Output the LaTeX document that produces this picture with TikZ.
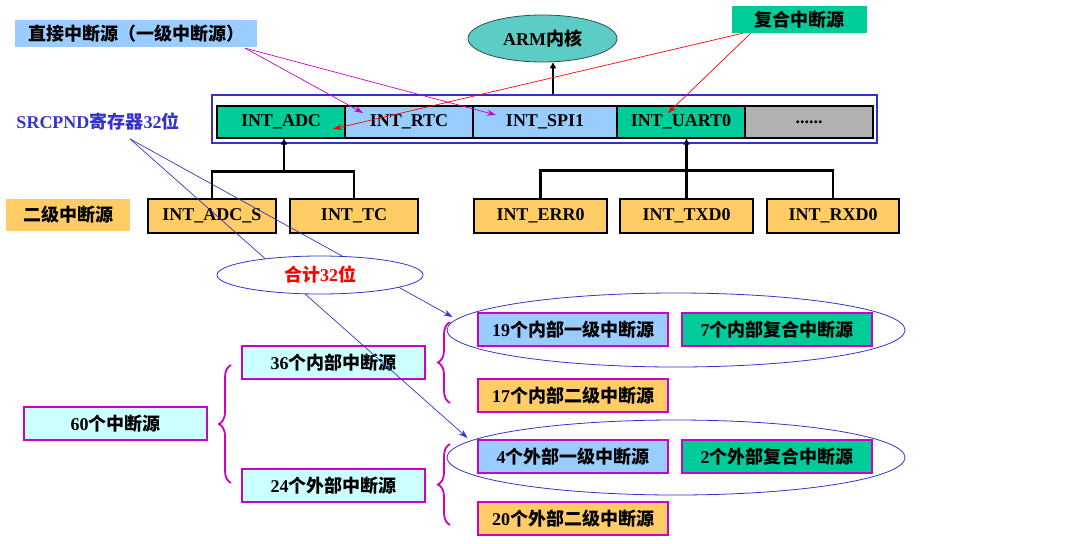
\documentclass[tikz,border=0pt]{standalone}
\usepackage{fontspec}
\setmainfont{Liberation Serif}
\newfontfamily\cjk{Noto Sans CJK SC}
\usetikzlibrary{arrows.meta,shapes.geometric,decorations.pathreplacing,calc}
\newcommand\zh[1]{{\cjk #1}}
\definecolor{lblue}{HTML}{99CCFF}
\definecolor{cgreen}{HTML}{00CC99}
\definecolor{corange}{HTML}{FFCC66}
\definecolor{ccyan}{HTML}{CCFFFF}
\definecolor{cmag}{HTML}{CC00CC}
\definecolor{cblue}{HTML}{3333CC}
\definecolor{cgray}{HTML}{B2B2B2}
\definecolor{cteal}{HTML}{5CCCC4}
\definecolor{cdteal}{HTML}{2F4F4F}
\begin{document}
\begin{tikzpicture}[x=1pt,y=-1pt,
  font=\fontsize{18}{20}\selectfont\bfseries,
  lbl/.style={rectangle, inner sep=0pt, anchor=center},
  cell/.style={lbl, draw=black, line width=1.3pt, minimum width=128pt, minimum height=32pt},
  subbox/.style={lbl, draw=black, line width=1.3pt, fill=corange, minimum height=34pt},
  cnt/.style={lbl, draw=cmag, line width=2.4pt, minimum width=183pt, minimum height=33pt},
  kind/.style={lbl, draw=cmag, line width=2.4pt, minimum width=190pt, minimum height=33pt},
  tree/.style={draw=black, line width=2.4pt},
  blk/.style={-{Triangle[length=6pt,width=6pt]}},
  thin/.style={line width=0.7pt},
  mbrace/.style={draw=cmag, line width=1.8pt, decorate, decoration={brace, amplitude=12pt}},
  ring/.style={ellipse, draw=cblue, line width=0.8pt, inner sep=0pt}
]
\useasboundingbox (0,0) rectangle (1083,543);

% top labels
\node[lbl, fill=lblue, minimum width=242pt, minimum height=27pt] (direct) at (136,33.5) {\zh{直接中断源（一级中断源）}};
\node[ellipse, draw=cdteal, line width=0.8pt, fill=cteal, minimum width=149pt, minimum height=47pt, inner sep=0pt] (arm) at (542.5,38.5) {ARM\zh{内核}};
\node[lbl, fill=cgreen, minimum width=135pt, minimum height=27pt] (comp) at (799.5,19.5) {\zh{复合中断源}};

% register
\node[lbl, draw=cblue, line width=2.8pt, minimum width=665pt, minimum height=48pt] (reg) at (544.5,119) {};
\node[cell, fill=cgreen] (adc) at (281,122) {INT\_ADC};
\node[cell, fill=lblue] (rtc) at (409,122) {INT\_RTC};
\node[cell, fill=lblue, minimum width=144pt] (spi) at (545,122) {INT\_SPI1};
\node[cell, fill=cgreen] (uart) at (681,122) {INT\_UART0};
\node[cell, fill=cgray] (dots) at (809,122) {......};
\node[lbl, text=cblue] (src) at (98,122) {SRCPND\zh{寄存器}32\zh{位}};

\draw[line width=1.4pt, blk] ($(reg.north)+(8.5,0)$) -- ($(arm.south)+(10.5,0)$);

% second level
\node[lbl, fill=corange, minimum width=124pt, minimum height=32pt] (lvl2) at (68,215) {\zh{二级中断源}};
\node[subbox, minimum width=128pt] (adcs) at (212,216) {INT\_ADC\_S};
\node[subbox, minimum width=128pt] (tc) at (354,216) {INT\_TC};
\node[subbox, minimum width=133pt] (err) at (540.5,216) {INT\_ERR0};
\node[subbox, minimum width=133pt] (txd) at (686.5,216) {INT\_TXD0};
\node[subbox, minimum width=132pt] (rxd) at (833,216) {INT\_RXD0};

\coordinate (j1) at ($(adc.south)+(3,33)$);
\coordinate (j2) at ($(txd.north)+(0,-28)$);
\draw[tree] (adcs.north) |- (j1) -| (tc.north);
\draw[tree, blk] (j1) -- (j1 |- adc.south);
\draw[tree] (err.north) |- (j2) -| (rxd.north);
\draw[tree, blk] (txd.north) -- (txd.north |- uart.south);

% magenta / red pointers
\coordinate (dstart) at ($(direct.south east)+(-12,1)$);
\draw[thin, draw=cmag, -{Stealth[length=9pt,width=6pt]}, cmag] (dstart) -- ($(rtc.center)+(-46,-9)$);
\draw[thin, draw=cmag, -{Stealth[length=9pt,width=6pt]}, cmag] (dstart) -- ($(spi.center)+(-49,-7)$);
\draw[thin, draw=red, -{Stealth[length=9pt,width=6pt]}, red] ($(comp.south west)+(11,0)$) -- ($(adc.center)+(52,7)$);
\draw[thin, draw=red, -{Stealth[length=9pt,width=6pt]}, red] ($(comp.south west)+(19,0)$) -- ($(uart.center)+(-13,-9)$);

% bottom classification
\node[cnt, fill=ccyan] (n60) at (115.5,423.5) {60\zh{个中断源}};
\node[cnt, fill=ccyan] (n36) at (333.5,362.5) {36\zh{个内部中断源}};
\node[cnt, fill=ccyan] (n24) at (333.5,485.5) {24\zh{个外部中断源}};
\node[kind, fill=lblue] (i19) at (573,329.5) {19\zh{个内部一级中断源}};
\node[kind, fill=cgreen] (i7) at (777,329.5) {7\zh{个内部复合中断源}};
\node[kind, fill=corange] (i17) at (573,395.5) {17\zh{个内部二级中断源}};
\node[kind, fill=lblue] (e4) at (573,456.5) {4\zh{个外部一级中断源}};
\node[kind, fill=cgreen] (e2) at (777,456.5) {2\zh{个外部复合中断源}};
\node[kind, fill=corange] (e20) at (573,518.5) {20\zh{个外部二级中断源}};

\node[ring, minimum width=458pt, minimum height=74pt] (ell1) at (676,330) {};
\node[ring, minimum width=458pt, minimum height=75pt] (ell2) at (676,457.5) {};

\draw[mbrace] (231,483) -- (231,365);
\draw[mbrace] (450,403) -- (450,322);
\draw[mbrace] (450,525) -- (450,444);

% SRCPND pointers
\coordinate (sstart) at ($(src.south)+(32,8)$);
\draw[thin, draw=cblue, -{Stealth[length=9pt,width=6pt]}, cblue] (sstart) -- ($(ell1.west)+(6,-13)$);
\draw[thin, draw=cblue, -{Stealth[length=9pt,width=6pt]}, cblue] (sstart) -- ($(ell2.west)+(21,-19.5)$);

\node[ellipse, draw=cblue, line width=0.8pt, fill=white, minimum width=206pt, minimum height=38pt, inner sep=0pt, text=red] (total) at (320,275) {\zh{合计}32\zh{位}};
\end{tikzpicture}
\end{document}
